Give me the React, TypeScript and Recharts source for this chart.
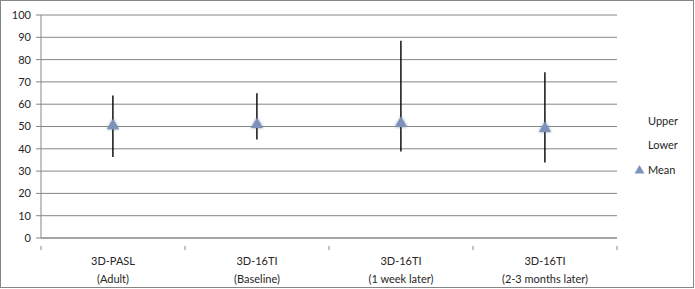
import React from 'react';
import { ComposedChart, Bar, Line, XAxis, YAxis, CartesianGrid, Legend } from 'recharts';

const CATEGORIES = ['3D-PASL (Adult)', '3D-16TI (Baseline)', '3D-16TI (1 week later)', '3D-16TI (2-3 months later)'];
const UPPER = [63.9, 64.9, 88.4, 74.3];
const LOWER = [36.3, 44.2, 38.8, 33.9];
const MEAN = [51, 51.5, 52, 49.8];
const Y_TICKS = [0, 10, 20, 30, 40, 50, 60, 70, 80, 90, 100];
const LEGEND_ORDER = ['Upper', 'Lower', 'Mean'];

const data = CATEGORIES.map((name, i) => ({
  name,
  upper: UPPER[i],
  lower: LOWER[i],
  mean: MEAN[i],
  range: [LOWER[i], UPPER[i]],
}));

const CHART_W = 692;
const CHART_H = 286;
const MARGIN = { top: 14, right: 76, bottom: 0, left: 0 };
const Y_AXIS_W = 40;
const PLOT_W = CHART_W - MARGIN.left - MARGIN.right - Y_AXIS_W;
const HALF_BAND = PLOT_W / CATEGORIES.length / 2;

const GRID = '#868686';
const TEXT = '#262626';
const FONT = 'Lato, "Open Sans", sans-serif';
const MARKER = '#7d92b9';

const triangle = (cx: number, cy: number, s = 11) =>
  `M${cx},${cy - s * 0.5} L${cx + s * 0.55},${cy + s * 0.45} L${cx - s * 0.55},${cy + s * 0.45} Z`;

const HighLow = (props: any) => {
  const { x, y, width, height } = props;
  const cx = x + width / 2;
  return <line x1={cx} x2={cx} y1={y} y2={y + height} stroke="#000" strokeWidth={1.4} />;
};

const MeanDot = (props: any) => {
  const { cx, cy, index } = props;
  if (cx == null || cy == null) return null;
  return (
    <path
      key={index}
      d={triangle(cx, cy)}
      fill={MARKER}
      style={{ filter: 'drop-shadow(0px 0px 1.5px rgba(90,110,150,0.7))' }}
    />
  );
};

const CategoryTick = (props: any) => {
  const { x, y, payload, index } = props;
  const label: string = payload.value;
  const cut = label.indexOf(' ');
  const l1 = label.slice(0, cut);
  const l2 = label.slice(cut + 1);
  return (
    <g>
      <line x1={x - HALF_BAND} x2={x - HALF_BAND} y1={y} y2={y + 4} stroke={GRID} />
      {index === CATEGORIES.length - 1 && (
        <line x1={x + HALF_BAND} x2={x + HALF_BAND} y1={y} y2={y + 4} stroke={GRID} />
      )}
      <text x={x} y={y + 19} textAnchor="middle" fill={TEXT} fontSize={11} fontFamily={FONT}>
        {l1}
      </text>
      <text x={x} y={y + 37} textAnchor="middle" fill={TEXT} fontSize={11} fontFamily={FONT}>
        {l2}
      </text>
    </g>
  );
};

const renderLegend = (props: any) => {
  const items = (props.payload || [])
    .filter((p: any) => LEGEND_ORDER.includes(p.value))
    .sort((a: any, b: any) => LEGEND_ORDER.indexOf(a.value) - LEGEND_ORDER.indexOf(b.value));
  return (
    <div style={{ fontFamily: FONT, fontSize: 11, color: TEXT }}>
      {items.map((p: any) => (
        <div key={p.value} style={{ display: 'flex', alignItems: 'center', height: 24.5 }}>
          <svg width={11} height={11} style={{ marginRight: 3 }}>
            {p.value === 'Mean' && <path d={triangle(5.5, 5.5, 9)} fill={MARKER} />}
          </svg>
          <span>{p.value}</span>
        </div>
      ))}
    </div>
  );
};

export default function App() {
  return (
    <div>
      <style>{`body{margin:0}`}</style>
      <div
        style={{
          width: 694,
          height: 288,
          boxSizing: 'border-box',
          border: `1px solid ${GRID}`,
          background: '#fff',
        }}
      >
        <ComposedChart width={CHART_W} height={CHART_H} data={data} margin={MARGIN}>
          <CartesianGrid vertical={false} stroke={GRID} strokeWidth={1} />
          <XAxis
            dataKey="name"
            axisLine={{ stroke: GRID }}
            tickLine={false}
            tick={<CategoryTick />}
            interval={0}
            height={49}
          />
          <YAxis
            domain={[0, 100]}
            ticks={Y_TICKS}
            width={Y_AXIS_W}
            axisLine={{ stroke: GRID }}
            tickLine={{ stroke: GRID }}
            tickSize={5}
            tickMargin={5}
            tick={{ fill: TEXT, fontSize: 11, fontFamily: FONT }}
            interval={0}
          />
          <Legend
            layout="vertical"
            align="center"
            verticalAlign="middle"
            content={renderLegend}
            wrapperStyle={{ left: 633, top: 107, width: 60 }}
          />
          <Line dataKey="upper" name="Upper" stroke="none" dot={false} activeDot={false} isAnimationActive={false} />
          <Line dataKey="lower" name="Lower" stroke="none" dot={false} activeDot={false} isAnimationActive={false} />
          <Bar dataKey="range" shape={<HighLow />} legendType="none" isAnimationActive={false} />
          <Line
            dataKey="mean"
            name="Mean"
            stroke="none"
            dot={<MeanDot />}
            activeDot={false}
            legendType="triangle"
            isAnimationActive={false}
          />
        </ComposedChart>
      </div>
    </div>
  );
}
